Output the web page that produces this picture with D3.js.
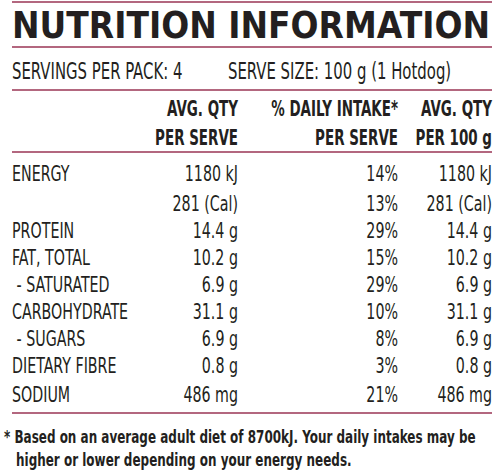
<!DOCTYPE html>
<html><head><meta charset="utf-8">
<script src="https://cdn.jsdelivr.net/npm/d3@7"></script>
<style>body{margin:0;background:#fff}</style></head>
<body><div id="vis"></div>
<script>
// table content
const NUTRIENTS = ["ENERGY", "", "PROTEIN", "FAT, TOTAL", " - SATURATED", "CARBOHYDRATE", " - SUGARS", "DIETARY FIBRE", "SODIUM"];
const PER_SERVE = ["1180 kJ", "281 (Cal)", "14.4 g", "10.2 g", "6.9 g", "31.1 g", "6.9 g", "0.8 g", "486 mg"];
const DAILY = ["14%", "13%", "29%", "15%", "29%", "10%", "8%", "3%", "21%"];
const PER_100 = ["1180 kJ", "281 (Cal)", "14.4 g", "10.2 g", "6.9 g", "31.1 g", "6.9 g", "0.8 g", "486 mg"];
const ROW_BASE = [181, 211, 238, 265, 292, 319, 346, 373, 402];

const WIDTH = 500, HEIGHT = 470;
const LINE_COLOR = "#b3677f";
const FONT = "'DejaVu Sans Condensed', 'DejaVu Sans', sans-serif";
const SX = 0.72;

const svg = d3.select("#vis").append("svg")
  .attr("width", WIDTH).attr("height", HEIGHT);

// condensed text helper
function txt(x, y, s, opts = {}) {
  return svg.append("text")
    .attr("transform", "translate(" + x + "," + y + ") scale(" + (opts.sx || SX) + ",1)")
    .attr("text-anchor", opts.anchor || "start")
    .attr("font-family", FONT)
    .attr("font-size", opts.size || 22)
    .attr("font-weight", opts.weight || "normal")
    .attr("fill", "#231f20")
    .attr("xml:space", "preserve")
    .text(s);
}

// rules
[2, 47, 90, 152, 413].forEach(y => {
  svg.append("line").attr("x1", 12).attr("x2", 492).attr("y1", y).attr("y2", y)
    .attr("stroke", LINE_COLOR).attr("stroke-width", 2);
});

// title
svg.append("text").attr("x", 12).attr("y", 38)
  .attr("font-family", "'DejaVu Sans', sans-serif").attr("font-weight", "bold")
  .attr("font-size", 37).attr("textLength", 478).attr("lengthAdjust", "spacingAndGlyphs")
  .attr("fill", "#231f20").text("NUTRITION INFORMATION");

txt(12, 79, "SERVINGS PER PACK: 4", {size: 23});
txt(228, 79, "SERVE SIZE: 100 g (1 Hotdog)", {size: 23});

// headers
const COLS = [238, 398, 492];
const HEAD1 = ["AVG. QTY", "% DAILY INTAKE*", "AVG. QTY"];
const HEAD2 = ["PER SERVE", "PER SERVE", "PER 100 g"];
COLS.forEach((x, i) => {
  txt(x, 116, HEAD1[i], {anchor: "end", weight: "bold", size: 22, sx: 0.68});
  txt(x, 145, HEAD2[i], {anchor: "end", weight: "bold", size: 22, sx: 0.68});
});

// rows
NUTRIENTS.forEach((n, i) => {
  const y = ROW_BASE[i];
  txt(12, y, n);
  txt(COLS[0], y, PER_SERVE[i], {anchor: "end"});
  txt(COLS[1], y, DAILY[i], {anchor: "end"});
  txt(COLS[2], y, PER_100[i], {anchor: "end"});
});

// footnote
txt(4, 443, "* Based on an average adult diet of 8700kJ. Your daily intakes may be", {weight: "bold", size: 18, sx: 0.74});
txt(16, 466, "higher or lower depending on your energy needs.", {weight: "bold", size: 18, sx: 0.74});
</script></body></html>
